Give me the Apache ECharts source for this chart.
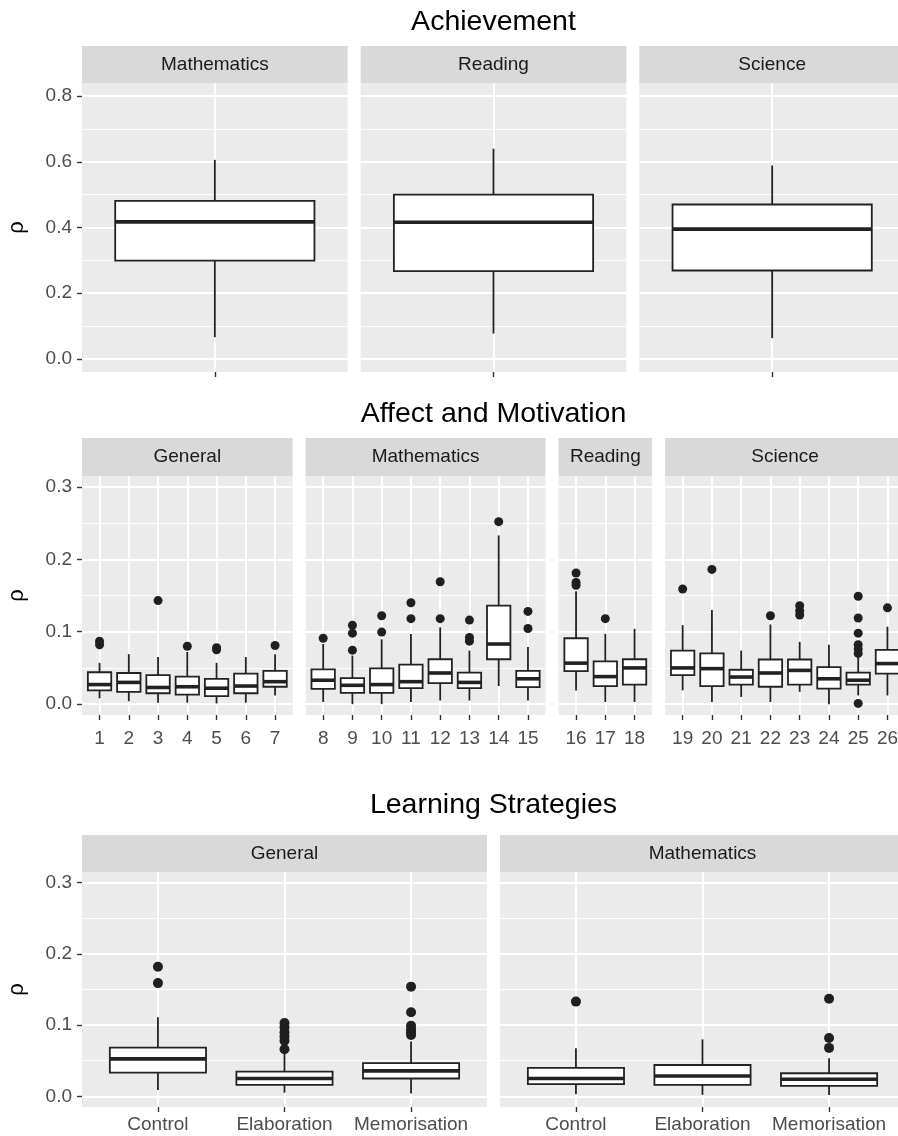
<!DOCTYPE html>
<html>
<head>
<meta charset="utf-8">
<title>Correlations by domain</title>
<script src="https://cdn.jsdelivr.net/npm/echarts@6/dist/echarts.min.js"></script>
<style>
html, body { margin: 0; padding: 0; background: #fff; }
#main { width: 898px; height: 1136px; }
</style>
</head>
<body>
<div id="main"></div>
<script>
// ---- data: each box is [lower whisker, Q1, median, Q3, upper whisker] ----

// Achievement
var achGroups = ['Mathematics', 'Reading', 'Science'];
var achCats = [[''], [''], ['']];
var achBoxes = [
	[[0.066, 0.299, 0.417, 0.481, 0.606]],
	[[0.077, 0.267, 0.416, 0.500, 0.640]],
	[[0.063, 0.269, 0.395, 0.470, 0.589]]
];
var achOutliers = [[[]], [[]], [[]]];
var achTicks = [0, 0.2, 0.4, 0.6, 0.8];
var achMinor = [0.1, 0.3, 0.5, 0.7];

// Affect and Motivation
var affGroups = ['General', 'Mathematics', 'Reading', 'Science'];
var affCats = [
	['1', '2', '3', '4', '5', '6', '7'],
	['8', '9', '10', '11', '12', '13', '14', '15'],
	['16', '17', '18'],
	['19', '20', '21', '22', '23', '24', '25', '26']
];
var affBoxes = [
	[
		[0.008, 0.019, 0.027, 0.044, 0.057],
		[0.004, 0.017, 0.030, 0.043, 0.069],
		[0.002, 0.015, 0.023, 0.040, 0.065],
		[0.002, 0.013, 0.024, 0.038, 0.072],
		[0.001, 0.011, 0.022, 0.035, 0.057],
		[0.002, 0.015, 0.025, 0.042, 0.065],
		[0.012, 0.024, 0.031, 0.046, 0.069]
	],
	[
		[0.003, 0.021, 0.033, 0.048, 0.083],
		[0.000, 0.0155, 0.026, 0.036, 0.067],
		[0.000, 0.0155, 0.027, 0.0495, 0.0895],
		[0.003, 0.022, 0.031, 0.0545, 0.097],
		[0.005, 0.029, 0.043, 0.062, 0.106],
		[0.005, 0.022, 0.030, 0.0436, 0.074],
		[0.025, 0.062, 0.083, 0.136, 0.233],
		[0.005, 0.0236, 0.035, 0.046, 0.079]
	],
	[
		[0.019, 0.0457, 0.0566, 0.091, 0.156],
		[0.003, 0.025, 0.038, 0.059, 0.097],
		[0.003, 0.027, 0.050, 0.062, 0.104]
	],
	[
		[0.019, 0.040, 0.050, 0.074, 0.109],
		[0.003, 0.025, 0.049, 0.070, 0.130],
		[0.010, 0.027, 0.0374, 0.0475, 0.074],
		[0.003, 0.024, 0.043, 0.0616, 0.110],
		[0.017, 0.027, 0.0466, 0.0616, 0.086],
		[0.000, 0.0215, 0.035, 0.051, 0.082],
		[0.012, 0.027, 0.033, 0.0434, 0.065],
		[0.012, 0.042, 0.056, 0.075, 0.107]
	]
];
var affOutliers = [
	[[0.082, 0.087], [], [0.143], [0.080], [0.075, 0.078], [], [0.081]],
	[[0.091], [0.0745, 0.098, 0.109], [0.0995, 0.122], [0.118, 0.140], [0.118, 0.169], [0.087, 0.092, 0.116], [0.252], [0.1045, 0.128]],
	[[0.164, 0.168, 0.181], [0.118], []],
	[[0.159], [0.186], [], [0.122], [0.123, 0.129, 0.136], [], [0.001, 0.070, 0.076, 0.082, 0.098, 0.119, 0.149], [0.133]]
];
var affTicks = [0, 0.1, 0.2, 0.3];
var affMinor = [0.05, 0.15, 0.25];

// Learning Strategies
var lrnGroups = ['General', 'Mathematics'];
var lrnCats = [
	['Control', 'Elaboration', 'Memorisation'],
	['Control', 'Elaboration', 'Memorisation']
];
var lrnBoxes = [
	[
		[0.009, 0.0333, 0.0526, 0.0685, 0.111],
		[0.005, 0.016, 0.025, 0.0347, 0.060],
		[0.004, 0.025, 0.0357, 0.0465, 0.077]
	],
	[
		[0.003, 0.017, 0.025, 0.040, 0.0676],
		[0.002, 0.016, 0.0286, 0.044, 0.080],
		[0.002, 0.0146, 0.024, 0.0324, 0.0535]
	]
];
var lrnOutliers = [
	[[0.159, 0.182], [0.066, 0.078, 0.084, 0.090, 0.097, 0.103], [0.086, 0.090, 0.094, 0.099, 0.118, 0.154]],
	[[0.133], [], [0.068, 0.082, 0.137]]
];
var lrnTicks = [0, 0.1, 0.2, 0.3];
var lrnMinor = [0.05, 0.15, 0.25];

// ---- layout ----
var FONT = 'Liberation Sans';
var PLOT_LEFT = 82;
var PLOT_RIGHT = 905;
var GAP = 13;
var AXIS_FS = 19;

var grids = [], xAxes = [], yAxes = [], series = [], graphics = [];

function makeBoxRenderer(frac){
	return function(params, api){
		var x = api.value(0);
		var lo = api.coord([x, api.value(1)]);
		var q1 = api.coord([x, api.value(2)]);
		var md = api.coord([x, api.value(3)]);
		var q3 = api.coord([x, api.value(4)]);
		var hi = api.coord([x, api.value(5)]);
		var half = api.size([frac, 0])[0] / 2;
		var ink = '#222222';
		return {
			type: 'group',
			children: [
				{type: 'line', shape: {x1: lo[0], y1: lo[1], x2: q1[0], y2: q1[1]}, style: {stroke: ink, lineWidth: 1.8}},
				{type: 'line', shape: {x1: q3[0], y1: q3[1], x2: hi[0], y2: hi[1]}, style: {stroke: ink, lineWidth: 1.8}},
				{type: 'rect', shape: {x: q3[0] - half, y: q3[1], width: half * 2, height: q1[1] - q3[1]},
					style: {fill: '#ffffff', stroke: ink, lineWidth: 1.8}},
				{type: 'line', shape: {x1: md[0] - half, y1: md[1], x2: md[0] + half, y2: md[1]}, style: {stroke: ink, lineWidth: 3.6}}
			]
		};
	};
}

function buildSection(sec, groups, cats, boxes, outliers, ticks, minor){
	var units = [], total = 0;
	for (var i = 0; i < cats.length; i++) { units.push(cats[i].length + 0.2); total += cats[i].length + 0.2; }
	var unit = (PLOT_RIGHT - PLOT_LEFT - GAP * (groups.length - 1)) / total;
	var left = PLOT_LEFT;
	var height = sec.plotBottom - sec.plotTop;

	graphics.push({type: 'text', x: (PLOT_LEFT + PLOT_RIGHT) / 2, y: sec.titleY,
		style: {text: sec.title, fill: '#000', fontSize: 28.5, fontFamily: FONT, align: 'center', verticalAlign: 'middle'}});
	graphics.push({type: 'text', x: 17, y: (sec.plotTop + sec.plotBottom) / 2, rotation: Math.PI / 2,
		style: {text: 'ρ', fill: '#000', fontSize: 22, fontFamily: FONT, align: 'center', verticalAlign: 'middle'}});

	groups.forEach(function(g, gi){
		var w = units[gi] * unit;
		var idx = grids.length;
		var labels = cats[gi];
		var catIdx = labels.map(function(c, j){ return j; });

		grids.push({left: left, top: sec.plotTop, width: w, height: height, show: true,
			backgroundColor: '#ebebeb', borderWidth: 0, outerBoundsMode: 'none', containLabel: false});

		xAxes.push({
			type: 'value', gridIndex: idx, min: -0.6, max: labels.length - 0.4, position: 'bottom',
			axisLine: {show: false, onZero: false},
			splitLine: {show: false},
			axisTick: {show: true, customValues: catIdx, length: 5, lineStyle: {color: '#333', width: 1.4}},
			axisLabel: {show: sec.xLabels, customValues: catIdx, margin: sec.xMargin,
				color: '#4d4d4d', fontSize: AXIS_FS, fontFamily: FONT,
				formatter: function(v){ return labels[Math.round(v)]; }}
		});
		yAxes.push({
			type: 'value', gridIndex: idx, min: sec.yMin, max: sec.yMax, position: 'left',
			axisLine: {show: false, onZero: false},
			splitLine: {show: false},
			axisTick: {show: gi === 0, customValues: ticks, length: 5, lineStyle: {color: '#333', width: 1.4}},
			axisLabel: {show: gi === 0, customValues: ticks, margin: 10,
				color: '#4d4d4d', fontSize: AXIS_FS, fontFamily: FONT,
				formatter: function(v){ return v.toFixed(1); }}
		});

		var lines = [];
		minor.forEach(function(v){ lines.push({yAxis: v, lineStyle: {width: 0.9}}); });
		ticks.forEach(function(v){ lines.push({yAxis: v, lineStyle: {width: 1.9}}); });
		catIdx.forEach(function(j){ lines.push({xAxis: j, lineStyle: {width: 1.9}}); });

		series.push({
			type: 'custom', xAxisIndex: idx, yAxisIndex: idx, z: 2, silent: true, animation: false,
			renderItem: makeBoxRenderer(sec.boxFrac),
			encode: {x: 0, y: 1},
			data: boxes[gi].map(function(b, j){ return [j].concat(b); }),
			markLine: {silent: true, z: 1, animation: false, symbol: ['none', 'none'], label: {show: false},
				lineStyle: {color: '#ffffff', type: 'solid'}, emphasis: {disabled: true}, data: lines}
		});

		var pts = [];
		outliers[gi].forEach(function(list, j){
			list.forEach(function(v){ pts.push([j, v]); });
		});
		series.push({
			type: 'scatter', xAxisIndex: idx, yAxisIndex: idx, z: 3, silent: true, animation: false,
			symbolSize: sec.dot, itemStyle: {color: '#1f1f1f', opacity: 1}, data: pts
		});

		graphics.push({type: 'rect', shape: {x: left, y: sec.stripTop, width: w, height: sec.plotTop - sec.stripTop},
			style: {fill: '#d9d9d9'}});
		graphics.push({type: 'text', x: left + w / 2, y: (sec.stripTop + sec.plotTop) / 2,
			style: {text: g, fill: '#1a1a1a', fontSize: AXIS_FS, fontFamily: FONT, align: 'center', verticalAlign: 'middle'}});

		left += w + GAP;
	});
}

buildSection({title: 'Achievement', titleY: 22, stripTop: 46, plotTop: 83, plotBottom: 372,
	yMin: -0.04, yMax: 0.84, boxFrac: 0.9, dot: 8, xLabels: false, xMargin: 10},
	achGroups, achCats, achBoxes, achOutliers, achTicks, achMinor);
buildSection({title: 'Affect and Motivation', titleY: 414, stripTop: 438, plotTop: 476, plotBottom: 715,
	yMin: -0.015, yMax: 0.315, boxFrac: 0.8, dot: 9, xLabels: true, xMargin: 14},
	affGroups, affCats, affBoxes, affOutliers, affTicks, affMinor);
buildSection({title: 'Learning Strategies', titleY: 805, stripTop: 835, plotTop: 872, plotBottom: 1107,
	yMin: -0.015, yMax: 0.315, boxFrac: 0.76, dot: 10, xLabels: true, xMargin: 8},
	lrnGroups, lrnCats, lrnBoxes, lrnOutliers, lrnTicks, lrnMinor);

var chart = echarts.init(document.getElementById('main'), null, {renderer: 'canvas'});
chart.setOption({
	animation: false,
	backgroundColor: '#ffffff',
	grid: grids,
	xAxis: xAxes,
	yAxis: yAxes,
	series: series,
	graphic: {elements: graphics}
});
</script>
</body>
</html>
